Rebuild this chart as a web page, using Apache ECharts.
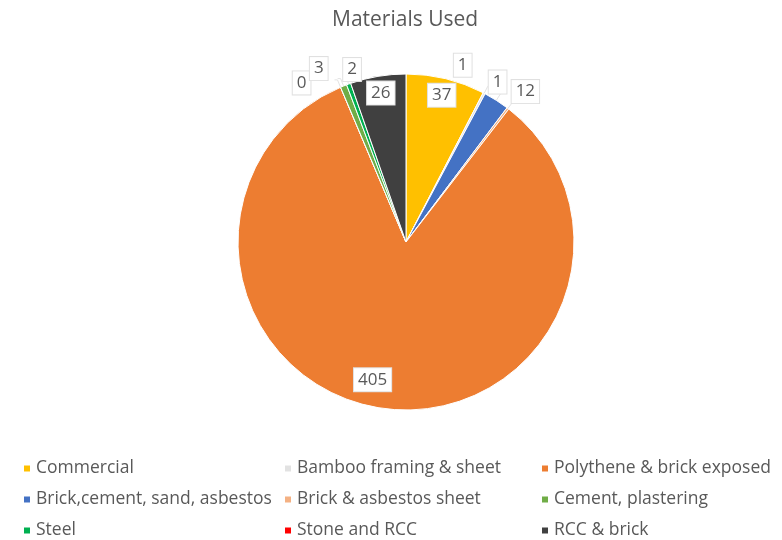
<!DOCTYPE html>
<html>
<head>
<meta charset="utf-8">
<script src="https://cdn.jsdelivr.net/npm/echarts@6/dist/echarts.min.js"></script>
<style>
  html, body { margin: 0; padding: 0; background: #fff; }
  #chart { width: 782px; height: 540px; }
</style>
</head>
<body>
<div id="chart"></div>
<script>
// Material categories, in slice order (clockwise from 12 o'clock)
const categories = [
  'Commercial',
  'Bamboo framing & sheet',
  'Brick,cement, sand, asbestos',
  'Brick & asbestos sheet',
  'Polythene & brick exposed',
  'Stone and RCC',
  'Cement, plastering',
  'Steel',
  'RCC & brick'
];
const counts = [37, 1, 12, 1, 405, 0, 3, 2, 26];
const colors = ['#FFC000', '#E2E2E2', '#4472C4', '#F4B183', '#ED7D31', '#FF0000', '#70AD47', '#00B050', '#404040'];

// Legend columns, read row by row
const legendCols = [
  ['Commercial', 'Brick,cement, sand, asbestos', 'Steel'],
  ['Bamboo framing & sheet', 'Brick & asbestos sheet', 'Stone and RCC'],
  ['Polythene & brick exposed', 'Cement, plastering', 'RCC & brick']
];

// Slices whose value label sits on the slice itself
const insideNames = ['Commercial', 'Polythene & brick exposed', 'RCC & brick'];

// Small nudges that fan out the crowded labels
const labelNudge = {
  'Bamboo framing & sheet': [-40, -21],
  'Brick,cement, sand, asbestos': [5, -2],
  'Brick & asbestos sheet': [-30, -20],
  'Stone and RCC': [-21, 3],
  'Cement, plastering': [-7, -10],
  'Steel': [21, -7],
  'Polythene & brick exposed': [-14, -12]
};

function nudgeLayout(params) {
  const n = labelNudge[categories[params.dataIndex]];
  return n ? { dx: n[0], dy: n[1], hideOverlap: false } : { hideOverlap: false };
}

const FONT = 'Open Sans, sans-serif';
const labelBox = {
  backgroundColor: '#ffffff',
  borderColor: '#e0e0e0',
  borderWidth: 1,
  padding: [4, 4, 2, 4],
  color: '#595959',
  fontSize: 17,
  fontFamily: FONT
};

const sliceData = categories.map((name, i) => {
  const inside = insideNames.includes(name);
  return {
    name: name,
    value: counts[i],
    itemStyle: { color: colors[i] },
    label: inside ? { show: false } : Object.assign({ show: true }, labelBox),
    labelLine: { show: !inside }
  };
});

// Transparent ring that carries the on-slice labels near the rim
const ringData = categories.map((name, i) => {
  const inside = insideNames.includes(name);
  return {
    name: name,
    value: counts[i],
    itemStyle: { color: 'rgba(0,0,0,0)', borderWidth: 0 },
    label: inside ? Object.assign({ show: true, position: 'inside' }, labelBox) : { show: false },
    labelLine: { show: false }
  };
});

const chart = echarts.init(document.getElementById('chart'), null, { renderer: 'canvas' });
chart.setOption({
  animation: false,
  backgroundColor: '#ffffff',
  title: {
    text: 'Materials Used',
    left: 327,
    top: 5,
    textStyle: { color: '#595959', fontSize: 21, fontWeight: 'normal', fontFamily: FONT }
  },
  legend: legendCols.map((col, k) => ({
    data: col,
    orient: 'vertical',
    left: [17, 278, 535][k],
    top: 453,
    height: 100,
    itemWidth: 8,
    itemHeight: 8,
    itemGap: 10,
    icon: 'rect',
    selectedMode: false,
    textStyle: { color: '#595959', fontSize: 17.5, lineHeight: 21, fontFamily: FONT }
  })),
  series: [
    {
      type: 'pie',
      center: [406, 242],
      radius: 168,
      startAngle: 90,
      clockwise: true,
      avoidLabelOverlap: false,
      minShowLabelAngle: 0,
      itemStyle: { borderColor: '#ffffff', borderWidth: 1 },
      label: { formatter: '{c}', position: 'outside', distanceToLabelLine: 3 },
      labelLine: { length: 8, length2: 3, lineStyle: { color: '#e3e3e3', width: 1 } },
      labelLayout: nudgeLayout,
      emphasis: { disabled: true },
      silent: true,
      data: sliceData
    },
    {
      type: 'pie',
      center: [406, 242],
      radius: [130, 166],
      startAngle: 90,
      clockwise: true,
      avoidLabelOverlap: false,
      label: { formatter: '{c}' },
      labelLayout: nudgeLayout,
      emphasis: { disabled: true },
      silent: true,
      data: ringData
    }
  ]
});
</script>
</body>
</html>
